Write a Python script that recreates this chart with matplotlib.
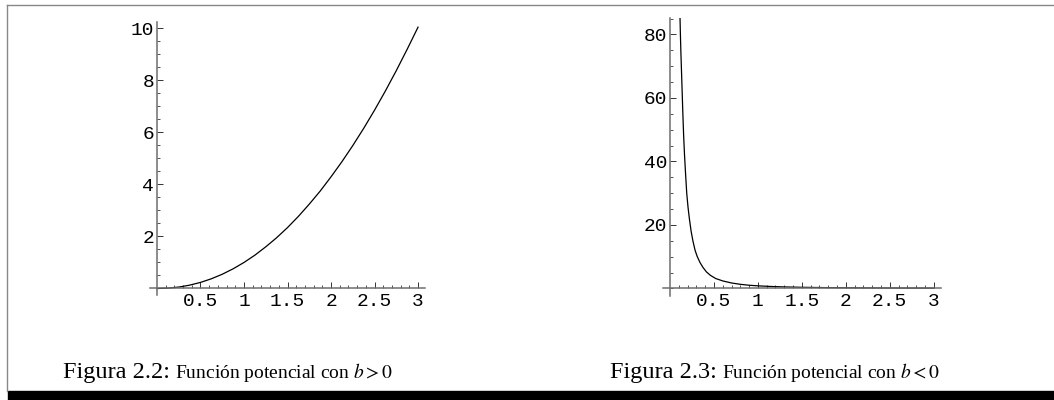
import numpy as np
import matplotlib
matplotlib.use("Agg")
import matplotlib.pyplot as plt
from matplotlib.ticker import MultipleLocator, FixedLocator

plt.rcParams['mathtext.fontset'] = 'stix'

# values (b > 0 curve)
x_pos = [0, 0.125, 0.25, 0.375, 0.5, 0.625, 0.75, 0.875, 1.0, 1.125, 1.25, 1.375, 1.5,
         1.625, 1.75, 1.875, 2.0, 2.125, 2.25, 2.375, 2.5, 2.625, 2.75, 2.875, 3.0]
y_pos = [0, 0.013, 0.054, 0.128, 0.233, 0.373, 0.547, 0.756, 1.0, 1.28, 1.6, 1.95, 2.34,
         2.77, 3.24, 3.74, 4.29, 4.87, 5.49, 6.15, 6.85, 7.59, 8.37, 9.19, 10.04]

# values (b < 0 curve)
x_neg = [0.113, 0.118, 0.124, 0.131, 0.138, 0.146, 0.155, 0.165, 0.177, 0.19, 0.205, 0.22,
         0.24, 0.26, 0.285, 0.31, 0.34, 0.375, 0.414, 0.46, 0.52, 0.6, 0.7, 0.8, 0.9, 1.0,
         1.15, 1.3, 1.5, 1.75, 2.0, 2.3, 2.6, 3.0]
y_neg = [86, 80, 74, 68, 62, 55, 48, 42, 36, 30, 25.5, 22, 18, 15, 12, 10, 8.2, 6.6, 5.2,
         4.1, 3.1, 2.35, 1.7, 1.28, 0.99, 0.8, 0.6, 0.46, 0.34, 0.25, 0.19, 0.14, 0.11, 0.08]

x_ticks = [0.5, 1, 1.5, 2, 2.5, 3]
x_labels = ['0.5', '1', '1.5', '2', '2.5', '3']
ypos_ticks = [2, 4, 6, 8, 10]
yneg_ticks = [20, 40, 60, 80]

captions = [("Figura 2.2:", "Función potencial con $b > 0$"),
            ("Figura 2.3:", "Función potencial con $b < 0$")]

W, H = 1054, 400
fig = plt.figure(figsize=(W / 100, H / 100), dpi=100)

axis_col = '#6e6e6e'
mono = 'Liberation Mono'
serif = 'Liberation Serif'


def mathematica_axes(rect, xlim, ylim, yticks, yminor):
    ax = fig.add_axes(rect)
    ax.set_xlim(*xlim)
    ax.set_ylim(*ylim)
    for s in ['top', 'right']:
        ax.spines[s].set_visible(False)
    ax.spines['left'].set_position(('data', 0))
    ax.spines['bottom'].set_position(('data', 0))
    for s in ['left', 'bottom']:
        ax.spines[s].set_color(axis_col)
        ax.spines[s].set_linewidth(1.1)
    ax.set_xticks(x_ticks)
    ax.set_xticklabels(x_labels)
    ax.xaxis.set_minor_locator(FixedLocator(np.arange(0.1, 3.05, 0.1)))
    ax.set_yticks(yticks)
    ax.set_yticklabels([str(t) for t in yticks])
    ax.yaxis.set_minor_locator(MultipleLocator(yminor))
    ax.tick_params(axis='x', which='major', direction='in', length=4, width=0.7,
                   color='#333333', pad=3, labelsize=14)
    ax.tick_params(axis='y', which='major', direction='in', length=4, width=0.7,
                   color='#333333', pad=2, labelsize=14)
    ax.tick_params(which='minor', direction='in', length=2, width=0.6, color='#333333')
    for lab in ax.get_xticklabels() + ax.get_yticklabels():
        lab.set_family(mono)
    ax.patch.set_visible(False)
    return ax


ax1 = mathematica_axes([150 / W, 1 - 295 / H, 275 / W, (295 - 21.7) / H],
                       (-0.08, 3.08), (-0.25, 10.25), ypos_ticks, 0.5)
ax1.plot(x_pos, y_pos, color='black', lw=0.9)

ax2 = mathematica_axes([663 / W, 1 - 296 / H, 277.7 / W, (296 - 18.3) / H],
                       (-0.08, 3.08), (-2.4, 85.1), yneg_ticks, 5)
ax2.plot(x_neg, y_neg, color='black', lw=0.9)

# captions: big "Figura" label followed by smaller caption text
renderer = fig.canvas.get_renderer()
base_y = 1 - 378 / H
gap = 5
head_size, body_size = 17.5, 14


def caption(head, body):
    t1 = fig.text(0, base_y, head, family=serif, fontsize=head_size, va='baseline')
    t2 = fig.text(0, base_y, body, family=serif, fontsize=body_size, va='baseline')
    return t1, t2, t1.get_window_extent(renderer).width, t2.get_window_extent(renderer).width


# left caption anchored at its left edge
a1, a2, wa1, wa2 = caption(*captions[0])
a1.set_x(63 / W)
a2.set_x((63 + wa1 + gap) / W)

# right caption centred below the right figure
b1, b2, wb1, wb2 = caption(*captions[1])
x0 = 775 - (wb1 + gap + wb2) / 2
b1.set_x(x0 / W)
b2.set_x((x0 + wb1 + gap) / W)

# page frame
fig.add_artist(plt.Line2D([7 / W, 7 / W], [1 - 5 / H, 1 - 391 / H], color='#888888', lw=1))
fig.add_artist(plt.Line2D([7 / W, 1], [1 - 5 / H, 1 - 5 / H], color='#888888', lw=1))
fig.add_artist(plt.Rectangle((8 / W, 0), 1 - 8 / W, 9 / H, color='black'))

fig.savefig('out.png', dpi=100)
